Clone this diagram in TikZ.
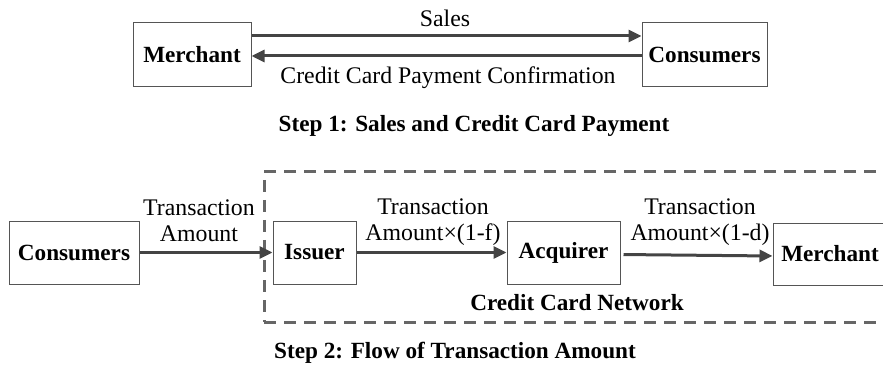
\documentclass[tikz,border=0pt]{standalone}
\usepackage{fontspec}
\setmainfont{Liberation Serif}
\usepackage{tikz}
\usetikzlibrary{arrows.meta,positioning}
\definecolor{boxgray}{HTML}{555555}
\definecolor{arrowgray}{HTML}{444444}
\definecolor{dashgray}{HTML}{666666}
\newcommand\txt[0]{\fontsize{23.8}{26}\selectfont}
\newcommand\bxt[0]{\fontsize{23.2}{26}\selectfont\bfseries}

\begin{document}
\begin{tikzpicture}[x=1pt,y=-1pt,
    party/.style={draw=boxgray, line width=1pt, inner sep=0pt, minimum height=63pt, font=\bxt},
    flow/.style={-{Triangle[length=13pt,width=12pt]}, line width=3pt, draw=arrowgray},
    lbl/.style={font=\txt, align=center, inner sep=0pt},
    network/.style={draw=dashgray, line width=3pt, dash pattern=on 12pt off 8pt}]
  \useasboundingbox (0,0) rectangle (883,366);
  % step 1
  \node[party, minimum width=118pt, minimum height=64pt] (m1) at (192,55) {Merchant};
  \node[party, minimum width=125pt, minimum height=64pt] (c1) at (704.5,55) {Consumers};
  \draw[flow] ([yshift=19pt]m1.east) -- ([yshift=19pt]c1.west);
  \draw[flow] ([yshift=-1pt]c1.west) -- ([yshift=-1pt]m1.east);
  \node[lbl] (sales) at (445,18) {Sales};
  \node[lbl] (conf) at (448,78) {Credit Card Payment Confirmation};
  \node[lbl, font=\bxt] (s1) at (474,126) {Step 1: Sales and Credit Card Payment};
  % step 2
  \node[network, minimum width=641pt, minimum height=150pt] (net) at (584.5,247) {};
  \node[party, minimum width=130pt] (con) at (74,252.5) {Consumers};
  \node[party, minimum width=83pt] (iss) at (314.5,252.5) {Issuer};
  \node[party, minimum width=113pt] (acq) at (563.5,252.5) {Acquirer};
  \node[party, minimum width=114pt, minimum height=62pt] (mer) at (830,254) {Merchant};
  \draw[flow] (con.east) -- (iss.west);
  \draw[flow] (iss.east) -- (acq.west);
  \draw[flow, shorten <=3pt] ([yshift=-2pt]acq.east) -- ([yshift=-2pt]mer.west);
  \node[lbl] (t1) at (199,221) {Transaction\\Amount};
  \node[lbl] (t2) at (433,222) {Transaction\\Amount×(1-f)};
  \node[lbl] (t3) at (700,222.5) {Transaction\\Amount×(1-d)};
  \node[lbl, font=\bxt] (netlbl) at (577,303) {Credit Card Network};
  \node[lbl, font=\bxt] (s2) at (455,353) {Step 2: Flow of Transaction Amount};
\end{tikzpicture}
\end{document}
